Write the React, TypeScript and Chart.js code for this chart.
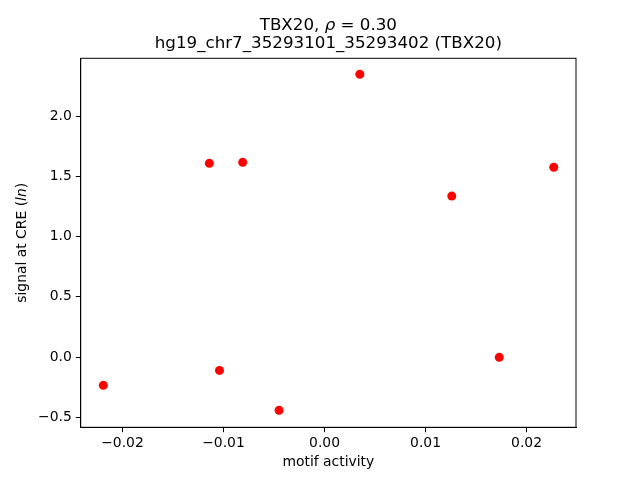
import { useEffect, useRef } from "react";
import { Chart, registerables } from "chart.js";

Chart.register(...registerables);

const xValues = [-0.0219, -0.0114, -0.0081, -0.0104, -0.0045, 0.0035, 0.0126, 0.0173, 0.0227];
const yValues = [-0.235, 1.61, 1.618, -0.111, -0.443, 2.35, 1.338, -0.0025, 1.577];
const xTicks = [-0.02, -0.01, 0.0, 0.01, 0.02];
const yTicks = [-0.5, 0.0, 0.5, 1.0, 1.5, 2.0];
const xRange = [-0.02414, 0.0249];
const yRange = [-0.584, 2.483];
const titleLine1 = ["TBX20, ", "ρ", " = 0.30"];
const titleLine2 = "hg19_chr7_35293101_35293402 (TBX20)";
const xLabel = "motif activity";
const yLabelRuns = ["signal at CRE (", "ln", ")"];

const FAMILY = "'DejaVu Sans', sans-serif";

function fmt(v: number, d: number) {
  const s = Math.abs(v) < 1e-12 ? (0).toFixed(d) : v.toFixed(d);
  return s.replace("-", "\u2212");
}

function drawRuns(ctx: CanvasRenderingContext2D, runs: { text: string; font: string }[], cx: number, y: number) {
  let total = 0;
  const widths = runs.map((r) => {
    ctx.font = r.font;
    const w = ctx.measureText(r.text).width;
    total += w;
    return w;
  });
  let x = cx - total / 2;
  ctx.textAlign = "left";
  ctx.textBaseline = "alphabetic";
  runs.forEach((r, i) => {
    ctx.font = r.font;
    ctx.fillText(r.text, x, y);
    x += widths[i];
  });
}

const textPlugin = {
  id: "mplText",
  afterDraw(chart: any) {
    const { ctx, chartArea: a } = chart;
    ctx.save();
    ctx.strokeStyle = "#000";
    ctx.lineWidth = 1;
    ctx.strokeRect(a.left, a.top, a.right - a.left, a.bottom - a.top);
    ctx.fillStyle = "#000";
    const cx = (a.left + a.right) / 2;
    const tFont = `16.7px ${FAMILY}`;
    const tIt = `italic 16.7px ${FAMILY}`;
    drawRuns(
      ctx,
      [
        { text: titleLine1[0], font: tFont },
        { text: titleLine1[1], font: tIt },
        { text: titleLine1[2], font: tFont },
      ],
      cx,
      30
    );
    drawRuns(ctx, [{ text: titleLine2, font: tFont }], cx, 48.3);
    const lFont = `13.9px ${FAMILY}`;
    const lIt = `italic 13.9px ${FAMILY}`;
    drawRuns(ctx, [{ text: xLabel, font: lFont }], cx, 466);
    ctx.save();
    ctx.translate(25.5, (a.top + a.bottom) / 2);
    ctx.rotate(-Math.PI / 2);
    drawRuns(
      ctx,
      [
        { text: yLabelRuns[0], font: lFont },
        { text: yLabelRuns[1], font: lIt },
        { text: yLabelRuns[2], font: lFont },
      ],
      0,
      0
    );
    ctx.restore();
    ctx.restore();
  },
};

export default function App() {
  const ref = useRef<HTMLCanvasElement | null>(null);
  useEffect(() => {
    if (!ref.current) return;
    const points = xValues.map((x, i) => ({ x, y: yValues[i] }));
    const tickFont = { family: FAMILY, size: 13.9 };
    const chart = new Chart(ref.current, {
      type: "scatter",
      data: {
        datasets: [
          {
            data: points,
            backgroundColor: "#ff0000",
            borderColor: "#ff0000",
            borderWidth: 0,
            pointRadius: 4.5,
            pointHoverRadius: 4.5,
          },
        ],
      },
      options: {
        animation: false,
        responsive: false,
        devicePixelRatio: 1,
        layout: { padding: { top: 58.3, right: 64, bottom: 0, left: 0 } },
        plugins: { legend: { display: false }, title: { display: false }, tooltip: { enabled: false } },
        scales: {
          x: {
            type: "linear",
            min: xRange[0],
            max: xRange[1],
            afterBuildTicks: (s: any) => {
              s.ticks = xTicks.map((v) => ({ value: v }));
            },
            afterFit: (s: any) => {
              s.height = 52.7;
            },
            grid: { drawOnChartArea: false, drawTicks: true, tickLength: 4.9, color: "#000", lineWidth: 1 },
            border: { display: true, color: "#000", width: 1 },
            ticks: {
              color: "#000",
              font: tickFont,
              padding: 3,
              autoSkip: false,
              maxRotation: 0,
              callback: (v: any) => fmt(Number(v), 2),
            },
          },
          y: {
            type: "linear",
            min: yRange[0],
            max: yRange[1],
            afterBuildTicks: (s: any) => {
              s.ticks = yTicks.map((v) => ({ value: v }));
            },
            afterFit: (s: any) => {
              s.width = 80.7;
            },
            grid: { drawOnChartArea: false, drawTicks: true, tickLength: 4.9, color: "#000", lineWidth: 1 },
            border: { display: true, color: "#000", width: 1 },
            ticks: {
              color: "#000",
              font: tickFont,
              padding: 4,
              autoSkip: false,
              callback: (v: any) => fmt(Number(v), 1),
            },
          },
        },
      },
      plugins: [textPlugin],
    } as any);
    return () => chart.destroy();
  }, []);
  return (
    <div style={{ position: "fixed", left: 0, top: 0, width: 640, height: 480, background: "#fff" }}>
      <canvas ref={ref} width={640} height={480} style={{ display: "block" }} />
    </div>
  );
}
